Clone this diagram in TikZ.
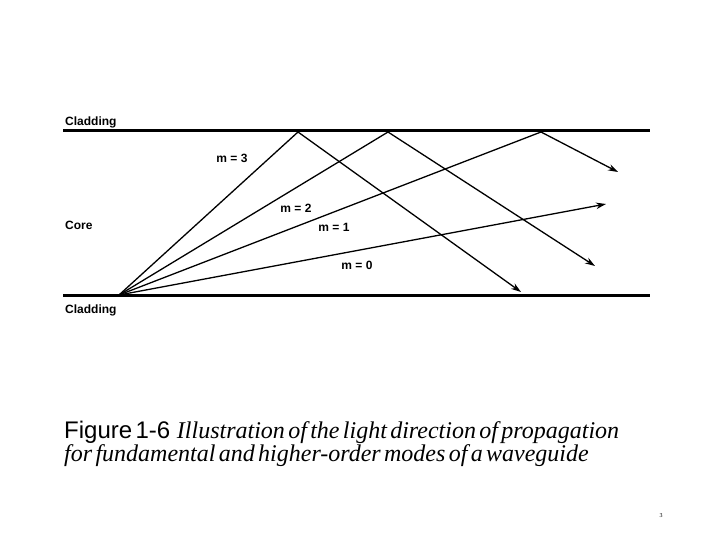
\documentclass[tikz,border=0pt]{standalone}
\usepackage{fontspec}
\usetikzlibrary{arrows.meta}
\setmainfont{Liberation Serif}
\setsansfont{Liberation Sans}
\begin{document}
\begin{tikzpicture}[x=1pt,y=-1pt,
  lbl/.style={font=\sffamily\bfseries\fontsize{12}{13}\selectfont,inner sep=0pt},
  wall/.style={line width=3pt},
  ray/.style={line width=1.3pt},
  rayarr/.style={line width=1.3pt,-{Stealth[length=10pt,width=6.5pt]}}]
\useasboundingbox (0,0) rectangle (720,540);
\coordinate (tl) at (63,131); \coordinate (tr) at (650,131);
\coordinate (bl) at (63,295); \coordinate (br) at (650,295);
\draw[wall] (tl) -- (tr);
\draw[wall] (bl) -- (br);
\coordinate (o) at (119,295);
\coordinate (r3) at (298,132); \coordinate (r2) at (388,132); \coordinate (r1) at (541,132);
\coordinate (e3) at (521,292); \coordinate (e2) at (595,266); \coordinate (e1) at (618,172); \coordinate (e0) at (606,204);
\draw[ray] (o) -- (r3); \draw[rayarr] (r3) -- (e3);
\draw[ray] (o) -- (r2); \draw[rayarr] (r2) -- (e2);
\draw[ray] (o) -- (r1); \draw[rayarr] (r1) -- (e1);
\draw[rayarr] (o) -- (e0);
\node[lbl,anchor=west] (c1) at (65,122) {Cladding};
\node[lbl,anchor=west] (c2) at (65,225) {Core};
\node[lbl,anchor=west] (c3) at (65,310) {Cladding};
\node[lbl] (m3) at (232,158) {m = 3};
\node[lbl] (m2) at (296,208) {m = 2};
\node[lbl] (m1) at (334,227) {m = 1};
\node[lbl] (m0) at (357,265) {m = 0};
\node[anchor=north west,inner sep=0pt,align=left,text width=650pt] (cap) at (64,421)
 {\fontsize{24}{27}\selectfont{\sffamily Figure 1-6}\ \ \itshape Illustration of the light direction of propagation\\ for fundamental and higher-order modes of a waveguide};
\node[font=\fontsize{6}{7}\selectfont,inner sep=0pt] (pg) at (661,516) {3};
\end{tikzpicture}
\end{document}
